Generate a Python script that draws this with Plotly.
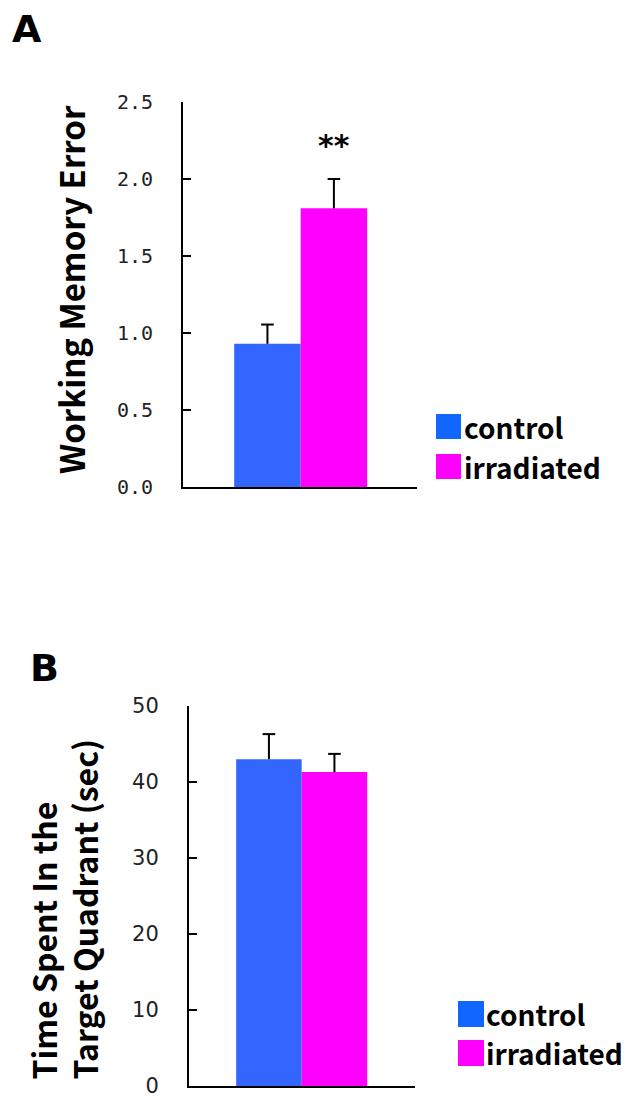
import plotly.graph_objects as go

# page body has an 8px margin, so the figure is drawn 8px in from the window edge
OFF = 8
WIN_W, WIN_H = 630, 1096
W, H = WIN_W - OFF, WIN_H - OFF

groups = ["control", "irradiated"]
colors = ["#3366FF", "#FF00FF"]
legend_colors = ["#1166FF", "#FF00FF"]

# Panel A: Working Memory Error
a_values = [0.93, 1.81]
a_errors = [0.125, 0.19]
a_ticks = [0.0, 0.5, 1.0, 1.5, 2.0, 2.5]

# Panel B: Time spent in target quadrant (sec)
b_values = [43.0, 41.3]
b_errors = [3.3, 2.4]
b_ticks = [0, 10, 20, 30, 40, 50]


def px_x(x):
    return (x - OFF) / W


def px_y(y):
    return 1 - (y - OFF) / H


fig = go.Figure()

panels = [
    dict(vals=a_values, errs=a_errors, xa="x", ya="y"),
    dict(vals=b_values, errs=b_errors, xa="x2", ya="y2"),
]

for p in panels:
    for i, g in enumerate(groups):
        fig.add_trace(go.Bar(
            x=[i], y=[p["vals"][i]], width=1, name=g,
            marker=dict(color=colors[i], line=dict(width=0)),
            error_y=dict(type="data", array=[p["errs"][i]], arrayminus=[0],
                         symmetric=False, width=0, thickness=2, color="black"),
            xaxis=p["xa"], yaxis=p["ya"], showlegend=False,
        ))
    fig.add_trace(go.Scatter(
        x=list(range(len(groups))),
        y=[v + e for v, e in zip(p["vals"], p["errs"])],
        mode="markers",
        marker=dict(symbol="line-ew", size=9, color="black",
                    line=dict(width=2, color="black")),
        xaxis=p["xa"], yaxis=p["ya"], showlegend=False, hoverinfo="skip",
    ))

tickfont_a = dict(family="DejaVu Sans Mono", size=20, color="#222222")
tickfont_b = dict(family="DejaVu Sans", size=21, color="#222222")
axis_common = dict(showline=True, linecolor="black", linewidth=2,
                   showgrid=False, zeroline=False, mirror=False, automargin=False)

fig.update_layout(
    template="none",
    width=W, height=H,
    margin=dict(l=0, r=0, t=0, b=0, autoexpand=False),
    paper_bgcolor="white", plot_bgcolor="white",
    barmode="overlay",
    showlegend=False,
    xaxis=dict(domain=[px_x(183), px_x(417)], range=[-1.27, 2.25],
               tickvals=[2.25], ticks="inside", ticklen=8, tickwidth=2,
               tickcolor="black", showticklabels=False, anchor="y", **axis_common),
    yaxis=dict(domain=[px_y(487), px_y(102)], range=[0, 2.5],
               tickvals=a_ticks, tickformat=".1f", ticks="inside", ticklen=8,
               tickwidth=2, tickcolor="black", tickfont=tickfont_a,
               ticklabelstandoff=24, ticklabeloverflow="allow", anchor="x",
               **axis_common),
    xaxis2=dict(domain=[px_x(189), px_x(415)], range=[-1.22, 2.23],
                tickvals=[2.23], ticks="inside", ticklen=8, tickwidth=2,
                tickcolor="black", showticklabels=False, anchor="y2", **axis_common),
    yaxis2=dict(domain=[px_y(1086), px_y(706)], range=[0, 50],
                tickvals=b_ticks, ticks="inside", ticklen=8,
                tickwidth=2, tickcolor="black", tickfont=tickfont_b,
                ticklabelstandoff=24, ticklabeloverflow="allow", anchor="x2",
                **axis_common),
)

title_font = dict(family="Noto Sans CJK JP", size=33, color="black", weight="bold")
letter_font = dict(family="DejaVu Sans", size=38, color="black", weight="bold")
legend_font = dict(family="Noto Sans CJK JP", size=28, color="black", weight="bold")

annotations = [
    dict(text="<b>A</b>", x=px_x(27), y=px_y(29), xref="paper", yref="paper",
         xanchor="center", yanchor="middle", showarrow=False, font=letter_font),
    dict(text="<b>B</b>", x=px_x(44), y=px_y(668), xref="paper", yref="paper",
         xanchor="center", yanchor="middle", showarrow=False, font=letter_font),
    dict(text="<b>Working Memory Error</b>", x=px_x(71), y=px_y(290),
         xref="paper", yref="paper", xanchor="center", yanchor="middle",
         textangle=-90, showarrow=False, font=title_font),
    dict(text="<b>Time Spent In the<br>Target Quadrant (sec)</b>", x=px_x(63),
         y=px_y(1082), xref="paper", yref="paper", xanchor="center",
         yanchor="bottom", align="left", textangle=-90, showarrow=False,
         font=dict(title_font, size=32)),
    dict(text="<b>**</b>", x=1, y=a_values[1] + a_errors[1] + 0.22, xref="x", yref="y",
         xanchor="center", yanchor="middle", showarrow=False,
         font=dict(family="DejaVu Sans", size=30, color="black", weight="bold")),
]

shapes = []
legend_boxes = [
    dict(x0=436, x1=461, rows=[(414, 439), (454, 479)], tx=462),
    dict(x0=458, x1=484, rows=[(1001, 1027), (1040, 1066)], tx=484),
]
for lb in legend_boxes:
    for i, (y0, y1) in enumerate(lb["rows"]):
        shapes.append(dict(type="rect", xref="paper", yref="paper",
                           x0=px_x(lb["x0"]), x1=px_x(lb["x1"]),
                           y0=px_y(y1), y1=px_y(y0),
                           fillcolor=legend_colors[i], line=dict(width=0)))
        annotations.append(dict(text="<b>" + groups[i] + "</b>", x=px_x(lb["tx"]),
                                y=px_y((y0 + y1) / 2), xref="paper", yref="paper",
                                xanchor="left", yanchor="middle", showarrow=False,
                                font=legend_font))

fig.update_layout(annotations=annotations, shapes=shapes)

fig.write_html("out.html")
